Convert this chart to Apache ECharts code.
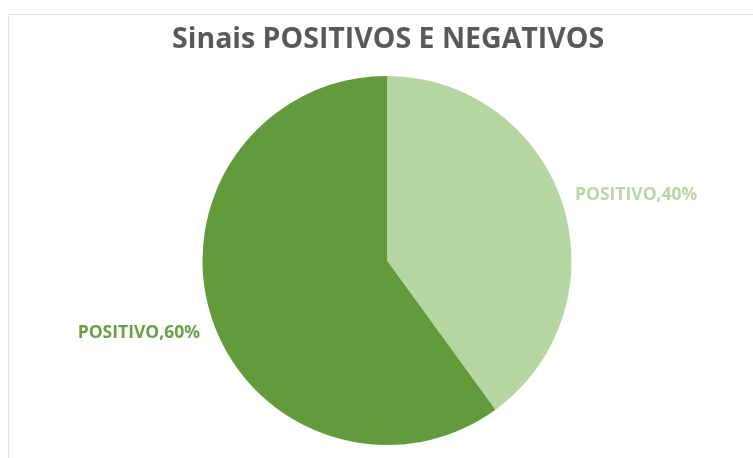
<!DOCTYPE html>
<html><head><meta charset="utf-8">
<script src="https://cdn.jsdelivr.net/npm/echarts@6/dist/echarts.min.js"></script>
<style>html,body{margin:0;padding:0;background:#fff}#c{width:753px;height:458px}</style>
</head><body><div id="c"></div>
<script>
const titleText = 'Sinais POSITIVOS E NEGATIVOS';
const categories = ['POSITIVO', 'POSITIVO'];
const values = [40, 60];
const colors = ['#B5D5A1', '#629A3C'];
const labelColors = ['#B9D6A8', '#6A9F46'];
const labelNudge = [[-2, -5], [3, 12]];

const chart = echarts.init(document.getElementById('c'));
chart.setOption({
  animation: false,
  title: {
    text: titleText, left: 167, top: 20,
    textStyle: { fontFamily: 'Open Sans', fontWeight: 'bold', fontSize: 28.5, color: '#595959' }
  },
  graphic: [{
    type: 'rect', shape: { x: 8.5, y: 14.5, width: 760, height: 460 },
    style: { fill: 'none', stroke: '#e3e3e3', lineWidth: 1 }, silent: true, z: -1
  }],
  series: [{
    type: 'pie',
    center: [387, 260.5],
    radius: [0, 184.5],
    startAngle: 90,
    clockwise: true,
    data: values.map((v, i) => ({
      name: categories[i], value: v,
      itemStyle: { color: colors[i] },
      label: { color: labelColors[i] }
    })),
    itemStyle: { borderWidth: 0 },
    label: {
      show: true, position: 'outside',
      formatter: p => p.name + ',' + p.value + '%',
      fontFamily: 'Open Sans', fontWeight: 'bold', fontSize: 17.5
    },
    labelLine: { show: false, length: 10, length2: 0 },
    labelLayout: p => ({ dx: labelNudge[p.dataIndex][0], dy: labelNudge[p.dataIndex][1] }),
    emphasis: { disabled: true }
  }]
});
</script></body></html>
